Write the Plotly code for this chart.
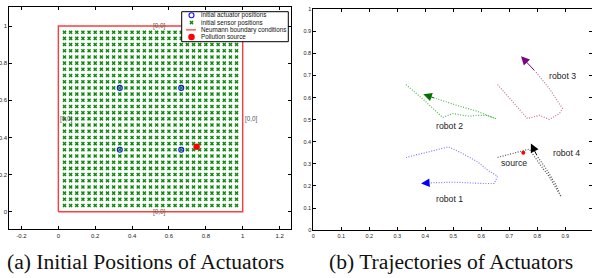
import plotly.graph_objects as go

# ---------------- data ----------------
# (a) initial positions
sensor_coords = [k / 30 for k in range(1, 30)]          # 29 x 29 sensor grid
actuator_x = [1/3, 2/3, 1/3, 2/3]
actuator_y = [1/3, 1/3, 2/3, 2/3]
source_x = [0.75]
source_y = [0.35]
boundary_x = [0, 1, 1, 0, 0]
boundary_y = [0, 0, 1, 1, 0]
bc_label_x = [0.5, 0.5, 0.0, 1.0]
bc_label_y = [1.0, 0.0, 0.5, 0.5]
bc_label_text = ["[0,0]", "[0,0]", "[0,0]", "[0,0]"]
legend_labels = ["initial actuator positions", "initial sensor positions",
                 "Neumann boundary conditions", "Pollution source"]
a_xticks = [-0.2, 0, 0.2, 0.4, 0.6, 0.8, 1, 1.2]
a_xtick_text = ["-0.2", "0", "0.2", "0.4", "0.6", "0.8", "1", "1.2"]
a_yticks = [0, 0.2, 0.4, 0.6, 0.8, 1]
a_ytick_text = ["0", "0.2", "0.4", "0.6", "0.8", "1"]

# (b) trajectories
r1_x = [0.331, 0.414, 0.483, 0.533, 0.587, 0.623, 0.658, 0.646, 0.605, 0.510, 0.414]
r1_y = [0.329, 0.354, 0.377, 0.347, 0.309, 0.271, 0.244, 0.211, 0.211, 0.217, 0.214]
r1_head = (0.385, 0.211)
r2_x = [0.331, 0.396, 0.462, 0.498, 0.533, 0.557, 0.587, 0.617, 0.652, 0.581, 0.510, 0.438]
r2_y = [0.659, 0.588, 0.510, 0.528, 0.520, 0.516, 0.520, 0.520, 0.505, 0.540, 0.566, 0.596]
r2_head = (0.393, 0.615)
r3_x = [0.658, 0.712, 0.765, 0.807, 0.843, 0.879, 0.890, 0.843, 0.795]
r3_y = [0.659, 0.581, 0.505, 0.520, 0.501, 0.528, 0.551, 0.641, 0.716]
r3_head = (0.742, 0.787)
r4_x = [0.658, 0.712, 0.771, 0.807, 0.843, 0.885, 0.867, 0.831, 0.801]
r4_y = [0.329, 0.347, 0.367, 0.302, 0.241, 0.151, 0.204, 0.279, 0.332]
r4_head = (0.777, 0.392)
b_source_x = [0.75]
b_source_y = [0.35]
robot_labels = ["robot 1", "robot 2", "robot 3", "robot 4", "source"]
robot_label_x = [0.430, 0.432, 0.833, 0.849, 0.662]
robot_label_y = [0.143, 0.472, 0.697, 0.351, 0.302]
b_xticks = [0, 0.1, 0.2, 0.3, 0.4, 0.5, 0.6, 0.7, 0.8, 0.9, 1]
b_xtick_text = ["0", "0.1", "0.2", "0.3", "0.4", "0.5", "0.6", "0.7", "0.8", "0.9", "1"]
b_yticks = [0, 0.1, 0.2, 0.3, 0.4, 0.5, 0.6, 0.7, 0.8, 0.9, 1]
b_ytick_text = ["0", "0.1", "0.2", "0.3", "0.4", "0.5", "0.6", "0.7", "0.8", "0.9", "1"]

captions = ["(a) Initial Positions of Actuators", "(b) Trajectories of Actuators"]

# ---------------- layout geometry (pixels) ----------------
W, H = 592, 278
LA = dict(x0=9.3, x1=291.0, y0=7.3, y1=229.3, xr=[-0.266, 1.262], yr=[-0.0948, 1.1007])
RB = dict(x0=313.3, x1=592.0, y0=9.3, y1=230.1)
rb_xr = [0, (RB["x1"] - RB["x0"]) / 280.0]
rb_yr = [0, 1]


def lx(px):
    return LA["xr"][0] + (px - LA["x0"]) / (LA["x1"] - LA["x0"]) * (LA["xr"][1] - LA["xr"][0])


def ly(py):
    return LA["yr"][1] - (py - LA["y0"]) / (LA["y1"] - LA["y0"]) * (LA["yr"][1] - LA["yr"][0])


FONT = "Liberation Sans, Arial, Helvetica, sans-serif"
SERIF = "Liberation Serif, Times New Roman, serif"
fig = go.Figure()

# ---- (a) ----
sx = [x for y in sensor_coords for x in sensor_coords]
sy = [y for y in sensor_coords for x in sensor_coords]
fig.add_trace(go.Scatter(x=sx, y=sy, mode="markers", xaxis="x", yaxis="y",
                         marker=dict(symbol="x", size=3.6, color="#0a8a0a",
                                     line=dict(width=0)), hoverinfo="skip"))
fig.add_trace(go.Scatter(x=boundary_x, y=boundary_y, mode="lines", xaxis="x", yaxis="y",
                         line=dict(color="#ff3b3b", width=1.4)))
fig.add_trace(go.Scatter(x=actuator_x, y=actuator_y, mode="markers", xaxis="x", yaxis="y",
                         marker=dict(symbol="circle-open", size=5, color="#1010ff",
                                     line=dict(width=1.1, color="#1010ff"))))
fig.add_trace(go.Scatter(x=source_x, y=source_y, mode="markers", xaxis="x", yaxis="y",
                         marker=dict(symbol="circle", size=6.5, color="#ff0000")))

# custom legend box
lb = [181.7, 288.3, 11.7, 41.7]
fig.add_trace(go.Scatter(x=[lx(lb[0]), lx(lb[1]), lx(lb[1]), lx(lb[0]), lx(lb[0])],
                         y=[ly(lb[2]), ly(lb[2]), ly(lb[3]), ly(lb[3]), ly(lb[2])],
                         mode="lines", fill="toself", fillcolor="white",
                         line=dict(color="black", width=1), xaxis="x", yaxis="y"))
rows = [15.3, 22.6, 29.9, 36.9]
sym_x = 191.5
fig.add_trace(go.Scatter(x=[lx(sym_x)], y=[ly(rows[0])], mode="markers", xaxis="x", yaxis="y",
                         marker=dict(symbol="circle-open", size=5, color="#1010ff",
                                     line=dict(width=1.1, color="#1010ff"))))
fig.add_trace(go.Scatter(x=[lx(sym_x)], y=[ly(rows[1])], mode="markers", xaxis="x", yaxis="y",
                         marker=dict(symbol="x", size=3.6, color="#0a8a0a", line=dict(width=0))))
fig.add_trace(go.Scatter(x=[lx(186), lx(196)], y=[ly(rows[2]), ly(rows[2])], mode="lines",
                         xaxis="x", yaxis="y", line=dict(color="#ff3b3b", width=1.4)))
fig.add_trace(go.Scatter(x=[lx(sym_x)], y=[ly(rows[3])], mode="markers", xaxis="x", yaxis="y",
                         marker=dict(symbol="circle", size=6.5, color="#ff0000")))

annotations = []
for t, r in zip(legend_labels, rows):
    annotations.append(dict(x=lx(199.3), y=ly(r), xref="x", yref="y", text=t, showarrow=False,
                            xanchor="left", yanchor="middle",
                            font=dict(family=FONT, size=6.3, color="#111")))
for t, x, y in zip(bc_label_text, bc_label_x, bc_label_y):
    annotations.append(dict(x=x, y=y, xref="x", yref="y", text=t, showarrow=False,
                            xanchor="left", yanchor="middle",
                            font=dict(family=FONT, size=6.3, color="#555")))

# ---- (b) ----
paths = [
    (r1_x, r1_y, r1_head, "#7d7dff", "#0000ff"),
    (r2_x, r2_y, r2_head, "#55b455", "#007000"),
    (r3_x, r3_y, r3_head, "#c5709a", "#800080"),
    (r4_x, r4_y, r4_head, "#505050", "#000000"),
]
for px_, py_, head, lc, hc in paths:
    fig.add_trace(go.Scatter(x=px_, y=py_, mode="lines", xaxis="x2", yaxis="y2",
                             line=dict(color=lc, width=1.2, dash="1px,1.6px")))
    annotations.append(dict(x=head[0], y=head[1], ax=px_[-1], ay=py_[-1],
                            xref="x2", yref="y2", axref="x2", ayref="y2", text="",
                            showarrow=True, arrowhead=2, arrowsize=1.7, arrowwidth=1,
                            arrowcolor=hc, standoff=0, startstandoff=0))
fig.add_trace(go.Scatter(x=b_source_x, y=b_source_y, mode="markers", xaxis="x2", yaxis="y2",
                         marker=dict(symbol="circle", size=4, color="#ff0000")))
fig.add_trace(go.Scatter(x=[], y=[], xaxis="x2", yaxis="y3", mode="markers"))
for t, x, y in zip(robot_labels, robot_label_x, robot_label_y):
    annotations.append(dict(x=x, y=y, xref="x2", yref="y2", text=t, showarrow=False,
                            xanchor="left", yanchor="middle",
                            font=dict(family=FONT, size=8.7, color="#222")))

# captions
for cap, cx in zip(captions, [145.5, 451.0]):
    annotations.append(dict(x=cx / W, y=1 - 262 / H, xref="paper", yref="paper", text=cap,
                            showarrow=False, xanchor="center", yanchor="middle",
                            font=dict(family=SERIF, size=21.6, color="#111")))

axis_common = dict(showgrid=False, zeroline=False, showline=True, linecolor="black",
                   linewidth=1, ticks="inside", ticklen=3, tickcolor="black", tickwidth=1,
                   automargin=False)

fig.update_layout(
    width=W, height=H, margin=dict(l=0, r=0, t=0, b=0, pad=0, autoexpand=False),
    paper_bgcolor="white", plot_bgcolor="rgba(0,0,0,0)", showlegend=False,
    hovermode=False,
    xaxis=dict(domain=[LA["x0"] / W, LA["x1"] / W], range=LA["xr"], anchor="y",
               tickvals=a_xticks, ticktext=a_xtick_text, mirror="ticks",
               tickfont=dict(family=FONT, size=6, color="#222"), **axis_common),
    yaxis=dict(domain=[1 - LA["y1"] / H, 1 - LA["y0"] / H], range=LA["yr"], anchor="x",
               tickvals=a_yticks, ticktext=a_ytick_text, mirror="ticks",
               tickfont=dict(family=FONT, size=6, color="#222"), **axis_common),
    xaxis2=dict(domain=[RB["x0"] / W, 1.0], range=rb_xr, anchor="y2",
                tickvals=b_xticks, ticktext=b_xtick_text, mirror="ticks",
                tickfont=dict(family=FONT, size=5.5, color="#222"), **axis_common),
    yaxis2=dict(domain=[1 - RB["y1"] / H, 1 - RB["y0"] / H], range=rb_yr, anchor="x2",
                tickvals=b_yticks, ticktext=b_ytick_text,
                tickfont=dict(family=FONT, size=5.5, color="#222"), **axis_common),
    yaxis3=dict(overlaying="y2", side="right", anchor="x2", range=rb_yr, tickvals=b_yticks,
                showticklabels=False, showline=False, showgrid=False, zeroline=False,
                ticks="inside", ticklen=3, tickcolor="black", automargin=False),
    annotations=annotations,
)

fig.write_html("out.html", config={"displayModeBar": False, "staticPlot": True},
               post_script="document.body.style.margin='0';document.body.style.padding='0';"
                           "document.body.style.overflow='hidden';")
